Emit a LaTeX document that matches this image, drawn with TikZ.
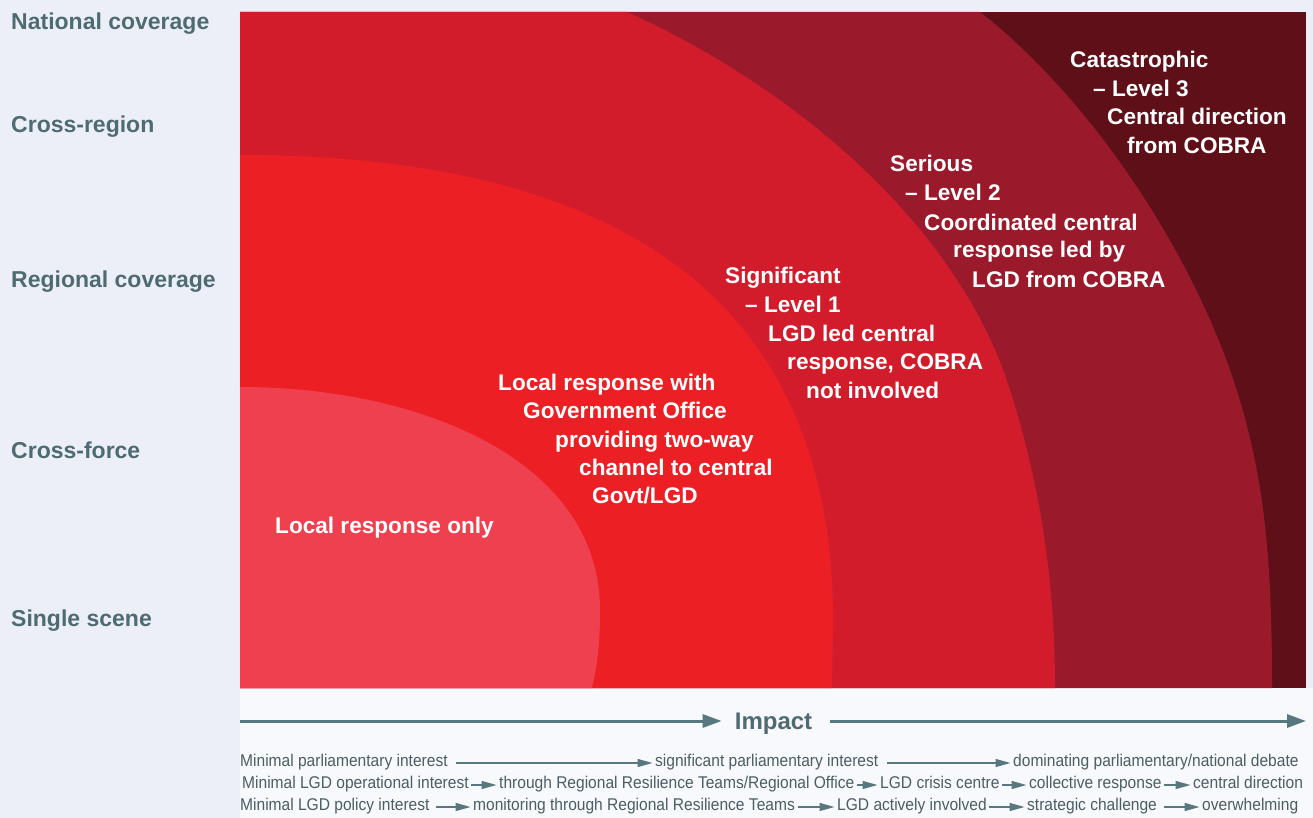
\documentclass[tikz,border=0pt]{standalone}
\usepackage{fontspec}
\setmainfont{Liberation Sans}
\newfontfamily\narrowf[FakeStretch=0.915]{Liberation Sans}
\usetikzlibrary{arrows.meta}
\definecolor{bgc}{HTML}{ECEFF7}
\definecolor{lowc}{HTML}{F8F9FC}
\definecolor{rfive}{HTML}{5E0F18}
\definecolor{rfour}{HTML}{9A1A2B}
\definecolor{rthree}{HTML}{D21C2B}
\definecolor{rtwo}{HTML}{EC2024}
\definecolor{rone}{HTML}{EE404F}
\definecolor{labc}{HTML}{4F6B72}
\definecolor{arrc}{HTML}{587880}
\definecolor{botc}{HTML}{4A5E64}
\tikzset{
  axislab/.style={font=\bfseries\fontsize{23}{27}\selectfont, text=labc, anchor=base west, inner sep=0pt},
  wt/.style={font=\bfseries\fontsize{22.6}{27}\selectfont, text=white, anchor=base west, inner sep=0pt},
  bt/.style={font=\narrowf\fontsize{17}{20}\selectfont, text=botc, anchor=base west, inner xsep=2.5pt, inner ysep=0pt, text height=10pt, text depth=3pt},
  barr/.style={draw=arrc, line width=1.3pt, -{Triangle[length=15pt,width=8pt]}},
  impl/.style={font=\bfseries\fontsize{24}{28}\selectfont, text=labc, anchor=base, inner xsep=13pt, inner ysep=0pt, text height=17pt, text depth=0pt},
  iarr/.style={draw=arrc, line width=3pt, -{Triangle[length=19pt,width=13pt]}}
}
\begin{document}
\begin{tikzpicture}[x=1pt,y=-1pt]
\useasboundingbox (0,0) rectangle (1313,818);
\fill[bgc] (0,0) rectangle (1313,818);
\fill[lowc] (240,688) rectangle (1313,818);
% nested response regions
\fill[rfive] (240,12) rectangle (1306,688);
\fill[rfour] (240,688) -- (240,12) -- (980,12)
  .. controls (1080,90) and (1180,230) .. (1230,370)
  .. controls (1265,470) and (1272,560) .. (1272,688) -- cycle;
\fill[rthree] (240,688) -- (240,12) -- (627,12)
  .. controls (800,90) and (960,230) .. (1010,390)
  .. controls (1045,500) and (1055,600) .. (1055,688) -- cycle;
\fill[rtwo] (240,688) -- (240,155)
  .. controls (620,155) and (833,300) .. (833,620)
  -- (832,688) -- cycle;
\fill[rone] (240,688) -- (240,387)
  .. controls (420,387) and (600,460) .. (600,610)
  .. controls (600,650) and (596,670) .. (592,688) -- cycle;

% left axis labels
\node[axislab] (nat) at (11,29.5) {National coverage};
\node[axislab] (creg) at (11,133) {Cross-region};
\node[axislab] (regc) at (11,287) {Regional coverage};
\node[axislab] (cforce) at (11,458) {Cross-force};
\node[axislab] (sscene) at (11,626) {Single scene};

% region texts
\node[wt] (ca1) at (1070,68) {Catastrophic};
\node[wt] (ca2) at (1093,97) {– Level 3};
\node[wt] (ca3) at (1107,125) {Central direction};
\node[wt] (ca4) at (1127,154) {from COBRA};

\node[wt] (se1) at (890,172) {Serious};
\node[wt] (se2) at (905,201) {– Level 2};
\node[wt] (se3) at (924,230) {Coordinated central};
\node[wt] (se4) at (953,258) {response led by};
\node[wt] (se5) at (972,287) {LGD from COBRA};

\node[wt] (si1) at (725,283) {Significant};
\node[wt] (si2) at (745,312) {– Level 1};
\node[wt] (si3) at (768,341) {LGD led central};
\node[wt] (si4) at (787,369) {response, COBRA};
\node[wt] (si5) at (806,398) {not involved};

\node[wt] (lo1) at (498,390) {Local response with};
\node[wt] (lo2) at (523,418) {Government Office};
\node[wt] (lo3) at (555,447) {providing two-way};
\node[wt] (lo4) at (579,475) {channel to central};
\node[wt] (lo5) at (592,503) {Govt/LGD};

\node[wt] (only) at (275,533) {Local response only};

% impact axis
\coordinate (impL) at (240,721);
\coordinate (impR) at (1306,721);
\node[impl] (impact) at (773.5,729.5) {Impact};
\draw[iarr] (impL) -- (impact.west);
\draw[iarr, shorten <=5pt] (impact.east) -- (impR);

% bottom rows
\node[bt] (a1) at (237.5,766.5) {Minimal parliamentary interest};
\node[bt] (a2) at (652.5,766.5) {significant parliamentary interest};
\node[bt] (a3) at (1010.5,766.5) {dominating parliamentary/national debate};
\draw[barr, shorten <=6pt] (a1) -- (a2);
\draw[barr, shorten <=6pt] (a2) -- (a3);

\node[bt] (b1) at (239.5,788.5) {Minimal LGD operational interest};
\node[bt] (b2) at (496.5,788.5) {through Regional Resilience Teams/Regional Office};
\node[bt] (b3) at (877.5,788.5) {LGD crisis centre};
\node[bt] (b4) at (1026.5,788.5) {collective response};
\node[bt] (b5) at (1190.5,788.5) {central direction};
\draw[barr] (b1) -- (b2);
\draw[barr] (b2) -- (b3);
\draw[barr] (b3) -- (b4);
\draw[barr] (b4) -- (b5);

\node[bt] (c1) at (237.5,810.5) {Minimal LGD policy interest};
\node[bt] (c2) at (470.5,810.5) {monitoring through Regional Resilience Teams};
\node[bt] (c3) at (834.5,810.5) {LGD actively involved};
\node[bt] (c4) at (1024.5,810.5) {strategic challenge};
\node[bt] (c5) at (1199.5,810.5) {overwhelming};
\draw[barr, shorten <=4pt] (c1) -- (c2);
\draw[barr] (c2) -- (c3);
\draw[barr] (c3) -- (c4);
\draw[barr, shorten <=4pt] (c4) -- (c5);
\end{tikzpicture}
\end{document}
